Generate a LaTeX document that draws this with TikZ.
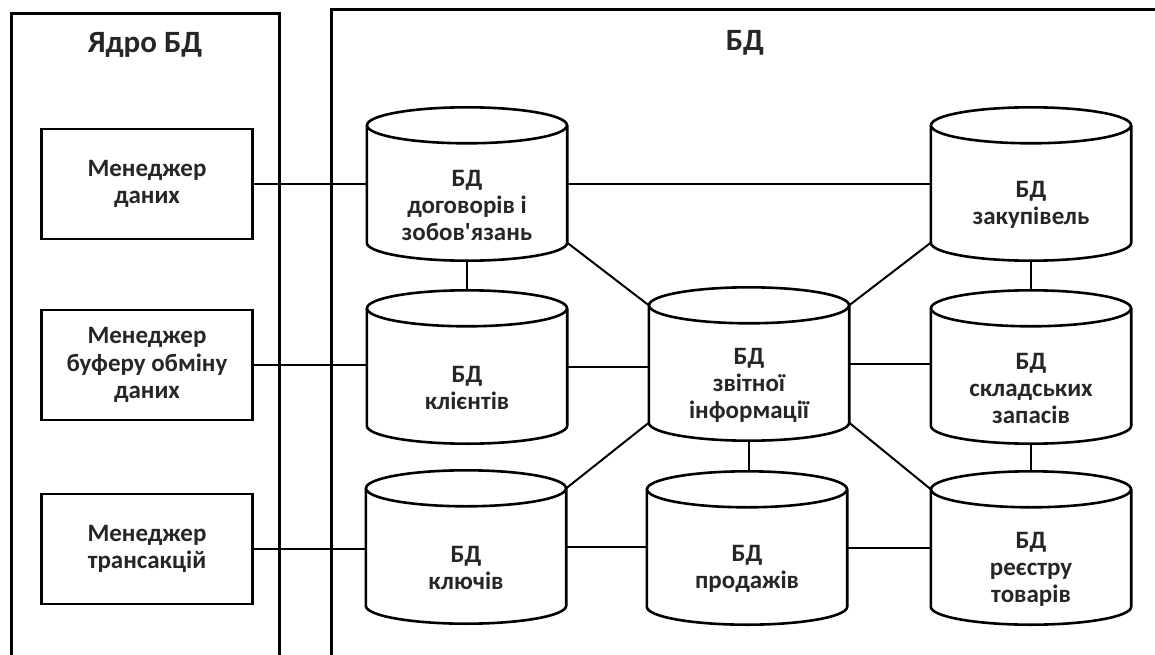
\documentclass[tikz,border=0pt]{standalone}
\usepackage{fontspec}
\setmainfont{Carlito}
\usetikzlibrary{calc}
\newcommand\drawcyl[1]{%
  \draw[cylline] ($(#1.north)+(0,18)$) ellipse [x radius=100pt, y radius=18pt];
  \draw[cylline] ($(#1.north west)+(0,18)$) -- ($(#1.south west)+(0,-18)$)
    .. controls ($(#1.south west)+(0,-8.06)$) and ($(#1.south)+(-55.2,0)$) .. (#1.south)
    .. controls ($(#1.south)+(55.2,0)$) and ($(#1.south east)+(0,-8.06)$) .. ($(#1.south east)+(0,-18)$)
    -- ($(#1.north east)+(0,18)$);
}
\begin{document}
\begin{tikzpicture}[x=1pt,y=-1pt,
  frame/.style={line width=3pt},
  mgr/.style={draw, line width=2.6pt, minimum width=211pt, minimum height=110pt, inner sep=0pt, align=center, font=\bfseries\fontsize{25}{27.5}\selectfont, text=black!85},
  cylbody/.style={minimum width=200pt, minimum height=153pt, inner sep=0pt},
  cyltext/.style={align=center, font=\bfseries\fontsize{25}{27}\selectfont, text=black!85},
  cylline/.style={line width=2.6pt},
  link/.style={line width=2pt},
  ttl/.style={font=\bfseries\fontsize{31}{33}\selectfont, text=black!85}
]
\useasboundingbox (0,0) rectangle (1155,655);
% outer frames
\draw[frame] (11,660) -- (11,14) -- (279,14) -- (279,660);
\draw[frame] (331,660) -- (331,10) -- (1160,10);
\node[ttl] (tcore) at (145,45) {Ядро БД};
\node[ttl] (tdb) at (745,43) {БД};
% managers
\node[mgr] (m1) at (147,184) {Менеджер\\даних};
\node[mgr] (m2) at (147,365) {Менеджер\\буферу обміну\\даних};
\node[mgr] (m3) at (147,549) {Менеджер\\трансакцій};
% cylinders
\node[cylbody] (c1) at (467,184) {};
\node[cylbody] (c2) at (1031,184) {};
\node[cylbody] (c3) at (467,367) {};
\node[cylbody] (c4) at (749,364) {};
\node[cylbody] (c5) at (1031,367) {};
\node[cylbody] (c6) at (466,547) {};
\node[cylbody] (c7) at (747,548) {};
\node[cylbody] (c8) at (1031,548) {};
\foreach \n in {c1,c2,c3,c4,c5,c6,c7,c8} {\drawcyl{\n}}
\node[cyltext] (t1) at ($(c1)+(0,21)$) {БД\\договорів і\\зобов\textquotesingle язань};
\node[cyltext] (t2) at ($(c2)+(0,21)$) {БД\\закупівель};
\node[cyltext] (t3) at ($(c3)+(0,21)$) {БД\\клієнтів};
\node[cyltext] (t4) at ($(c4)+(0,21)$) {БД\\звітної\\інформації};
\node[cyltext] (t5) at ($(c5)+(0,21)$) {БД\\складських\\запасів};
\node[cyltext] (t6) at ($(c6)+(0,21)$) {БД\\ключів};
\node[cyltext] (t7) at ($(c7)+(0,21)$) {БД\\продажів};
\node[cyltext] (t8) at ($(c8)+(0,21)$) {БД\\реєстру\\товарів};
% corner coordinates
\foreach \n in {c1,c2,c3,c4,c5,c6,c7,c8} {
  \coordinate (\n-tl) at ($(\n.north west)+(0,18)$);
  \coordinate (\n-tr) at ($(\n.north east)+(0,18)$);
  \coordinate (\n-bl) at ($(\n.south west)+(0,-18)$);
  \coordinate (\n-br) at ($(\n.south east)+(0,-18)$);
}
% manager links
\draw[link] (m1.east) -- (m1.east -| c1.west);
\draw[link] (m2.east) -- (m2.east -| c3.west);
\draw[link] (m3.east) -- (m3.east -| c6.west);
% database links
\draw[link] (c1.east) -- (c1.east -| c2.west);
\draw[link] (c1.south) -- (c1.south |- c3.north);
\draw[link] (c2.south) -- (c2.south |- c5.north);
\draw[link] (c1-br) -- (c4-tl);
\draw[link] (c2-bl) -- (c4-tr);
\draw[link] (c3.east) -- (c3.east -| c4.west);
\draw[link] (c4.east) -- (c4.east -| c5.west);
\draw[link] (c4-bl) -- (c6-tr);
\draw[link] (c4-br) -- (c8-tl);
\draw[link] (c4.south) -- (c4.south |- c7.north);
\draw[link] (c5.south) -- (c5.south |- c8.north);
\draw[link] (c6.east) -- (c6.east -| c7.west);
\draw[link] (c7.east) -- (c7.east -| c8.west);
\end{tikzpicture}
\end{document}
